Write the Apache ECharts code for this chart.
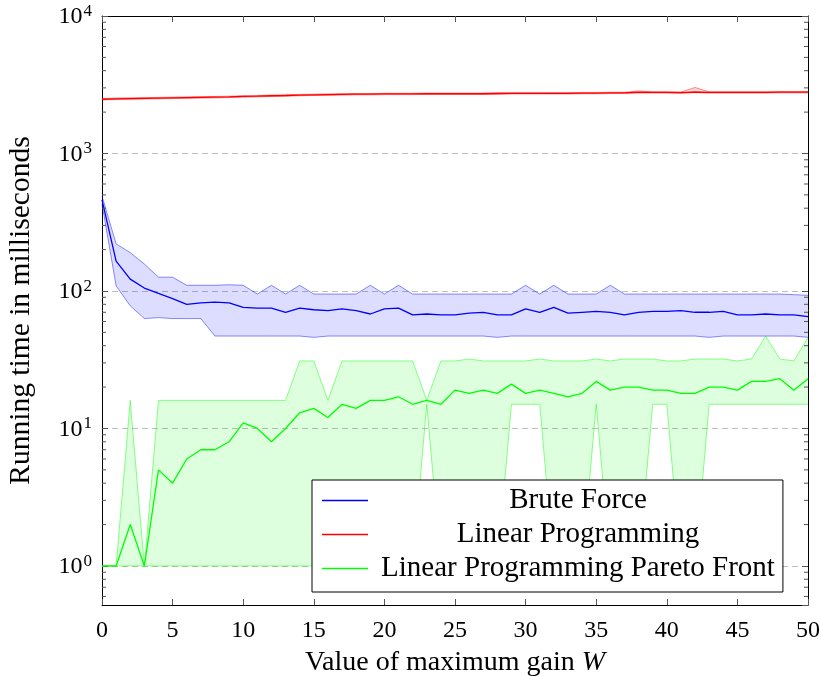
<!DOCTYPE html>
<html>
<head>
<meta charset="utf-8">
<script src="https://cdn.jsdelivr.net/npm/echarts@6/dist/echarts.min.js"></script>
<style>
html,body{margin:0;padding:0;background:#fff;}
#c{width:821px;height:676px;}
</style>
</head>
<body>
<div id="c"></div>
<script>
// ---- data ----
const W = [0,1,2,3,4,5,6,7,8,9,10,11,12,13,14,15,16,17,18,19,20,21,22,23,24,25,26,27,28,29,30,31,32,33,34,35,36,37,38,39,40,41,42,43,44,45,46,47,48,49,50];

const bfMean = [460,165,122,105,96,88,80,82,83,82,76,75,75,70,75,73,72,74,72,68,74,75,67,68,67,67,69,70,67,67,74,70,76,69,70,71,70,67,70,71,71,72,70,70,71,67,67,68,67,67,65];
const bfMax  = [490,220,190,157,126,126,110,110,110,111,110,95,110,95,110,95,95,95,95,110,95,110,95,95,95,95,95,95,95,95,110,95,110,95,95,95,110,95,95,95,95,95,95,95,95,95,95,95,95,94,93];
const bfMin  = [430,109,78,63,64,63,63,63,47,47,47,47,47,47,47,46,47,47,47,47,47,47,47,47,47,47,47,47,46,47,47,47,47,47,47,47,47,47,47,47,47,47,47,46,47,47,47,47,47,47,46];

const lpMean = [2480,2500,2510,2520,2530,2540,2550,2560,2570,2580,2600,2610,2630,2640,2660,2670,2680,2690,2700,2700,2710,2710,2710,2720,2720,2720,2720,2720,2730,2740,2740,2740,2740,2740,2750,2750,2760,2760,2790,2780,2780,2770,2800,2780,2780,2780,2780,2780,2790,2790,2790];
const lpMax  = [2510,2530,2540,2550,2560,2570,2580,2590,2600,2610,2630,2640,2660,2670,2690,2700,2710,2720,2730,2730,2740,2740,2740,2750,2750,2750,2750,2750,2760,2770,2770,2770,2770,2770,2780,2780,2790,2790,2850,2810,2810,2800,3020,2810,2810,2810,2810,2810,2820,2820,2820];
const lpMin  = [2450,2470,2480,2490,2500,2510,2520,2530,2540,2550,2570,2580,2600,2610,2630,2640,2650,2660,2670,2670,2680,2680,2680,2690,2690,2690,2690,2690,2700,2710,2710,2710,2710,2710,2720,2720,2730,2730,2750,2750,2750,2740,2770,2750,2750,2750,2750,2750,2760,2760,2760];

const pfMean = [1,1,2,1,5,4,6,7,7,8,11,10,8,10,13,14,12,15,14,16,16,17,15,16,15,19,18,19,18,21,18,19,18,17,18,22,19,20,20,19,19,18,18,20,20,19,22,22,23,19,23];
const pfMax  = [1,1,16,1,16,16,16,16,16,16,16,16,16,16,31,31,16,31,31,31,31,31,31,16,31,31,32,31,31,31,31,32,31,31,31,32,31,32,32,32,31,31,32,32,32,31,32,47,32,31,46];
const pfMin  = [1,1,1,1,1,1,1,1,1,1,1,1,1,1,1,1,1,1,1,1,1,1,1,15,1,1,1,1,1,15,15,15,1,1,1,15,1,1,1,15,15,1,1,15,15,15,15,15,15,15,15];

const seriesNames = ['Brute Force','Linear Programming','Linear Programming Pareto Front'];
const xTitle = 'Value of maximum gain {i|W}';
const yTitle = 'Running time in milliseconds';
const minorMultipliers = [2,3,4,5,6,7,8,9];
const minorDecades = [0.1,1,10,100,1000];

// ---- chart ----
const FONT = 'Liberation Serif';
const chart = echarts.init(document.getElementById('c'), null, {renderer:'canvas'});

function pairs(ys){ return W.map((x,i)=>[x, ys[i]]); }

function band(name, lo, hi, fill, z){
  return {
    type:'custom', name:name, silent:true, z:z, clip:true,
    data:[[W[0], lo[0]]], encode:{x:0,y:1},
    renderItem:function(params, api){
      const pts=[];
      for(let i=0;i<W.length;i++) pts.push(api.coord([W[i], hi[i]]));
      for(let i=W.length-1;i>=0;i--) pts.push(api.coord([W[i], lo[i]]));
      return {type:'polygon', shape:{points:pts}, style:{fill:fill, stroke:null}};
    }
  };
}
function edge(name, ys, color, z){
  return {type:'line', name:name, data:pairs(ys), symbol:'none', silent:true, z:z,
    lineStyle:{color:color, width:1}, animation:false};
}
function mean(name, ys, color, z){
  return {type:'line', name:name, data:pairs(ys), symbol:'none', z:z,
    itemStyle:{color:color}, lineStyle:{color:color, width:1.3}, animation:false};
}

const minorTicks = {
  type:'custom', name:'minorTicks', silent:true, z:20, clip:false,
  data:[[0,1]], encode:{x:0,y:1},
  renderItem:function(params, api){
    const children=[];
    const yLo = api.coord([0, 0.52])[1], yHi = api.coord([0, 10000])[1];
    for(const d of minorDecades){
      for(const m of minorMultipliers){
        const v = d*m;
        const p0 = api.coord([0, v]);
        const p1 = api.coord([50, v]);
        if(p0[1] > yLo + 0.5 || p0[1] < yHi - 0.5) continue;
        children.push({type:'line', shape:{x1:p0[0], y1:p0[1], x2:p0[0]+4, y2:p0[1]}, style:{stroke:'#555', lineWidth:1}});
        children.push({type:'line', shape:{x1:p1[0], y1:p1[1], x2:p1[0]-4, y2:p1[1]}, style:{stroke:'#555', lineWidth:1}});
      }
    }
    return {type:'group', children:children};
  }
};

function yLabel(v){
  const e = Math.round(Math.log10(v));
  if (Math.abs(Math.log10(v) - e) > 1e-6) return '';
  return '{b|10}{s|' + e + '}';
}

const option = {
  animation:false,
  backgroundColor:'#fff',
  grid:{left:102, right:13, top:16, bottom:71, containLabel:false, outerBoundsMode:'none'},
  xAxis:[
    {type:'value', min:0, max:50, interval:5, position:'bottom',
     axisLine:{show:true, onZero:false, lineStyle:{color:'#000', width:1}},
     axisTick:{show:true, inside:true, length:6, lineStyle:{color:'#555'}},
     axisLabel:{fontFamily:FONT, fontSize:24, color:'#000', margin:14},
     splitLine:{show:false},
     name:xTitle, nameLocation:'middle', nameGap:44,
     nameTextStyle:{fontFamily:FONT, fontSize:28, color:'#000', rich:{i:{fontFamily:FONT, fontSize:28, fontStyle:'italic', color:'#000'}}}
    },
    {type:'value', min:0, max:50, interval:5, position:'top',
     axisLine:{show:true, onZero:false, lineStyle:{color:'#000', width:1}},
     axisTick:{show:true, inside:true, length:6, lineStyle:{color:'#555'}},
     axisLabel:{show:false}, splitLine:{show:false}}
  ],
  yAxis:[
    {type:'log', logBase:10, min:0.52, max:10000, position:'left',
     axisLine:{show:true, onZero:false, lineStyle:{color:'#000', width:1}},
     axisTick:{show:true, inside:true, length:6, lineStyle:{color:'#555'}},
     axisLabel:{showMinLabel:false, margin:10, formatter:yLabel, color:'#000',
       rich:{b:{fontFamily:FONT, fontSize:24, color:'#000', verticalAlign:'bottom', lineHeight:26},
             s:{fontFamily:FONT, fontSize:17, color:'#000', verticalAlign:'top', lineHeight:26, padding:[0,0,0,1]}}},
     splitLine:{show:true, lineStyle:{color:'#bdbdbd', type:[6,4], width:1}},
     name:yTitle, nameLocation:'middle', nameGap:66,
     nameTextStyle:{fontFamily:FONT, fontSize:29.5, color:'#000'}
    },
    {type:'log', logBase:10, min:0.52, max:10000, position:'right',
     axisLine:{show:true, onZero:false, lineStyle:{color:'#000', width:1}},
     axisTick:{show:true, inside:true, length:6, lineStyle:{color:'#555'}},
     axisLabel:{show:false}, splitLine:{show:false}}
  ],
  legend:{
    data:seriesNames, orient:'vertical', left:312, top:480,
    backgroundColor:'#fff', borderColor:'#000', borderWidth:1, borderRadius:0,
    padding:[6,8,9,10], itemGap:5, itemWidth:46, itemHeight:1.5, icon:'rect',
    textStyle:{fontFamily:FONT, fontSize:29, color:'#000',
      rich:{c:{width:410, height:27, align:'center', fontFamily:FONT, fontSize:29, color:'#000'}}},
    formatter:function(n){ return '{c|' + n + '}'; },
    selectedMode:false
  },
  series:[
    band('bfBand', bfMin, bfMax, 'rgba(0,0,255,0.135)', 2),
    band('lpBand', lpMin, lpMax, 'rgba(255,0,0,0.135)', 2),
    band('pfBand', pfMin, pfMax, 'rgba(0,255,0,0.135)', 2),
    edge('bfMaxE', bfMax, 'rgba(0,0,255,0.45)', 3),
    edge('bfMinE', bfMin, 'rgba(0,0,255,0.45)', 3),
    edge('lpMaxE', lpMax, 'rgba(255,0,0,0.45)', 3),
    edge('lpMinE', lpMin, 'rgba(255,0,0,0.45)', 3),
    edge('pfMaxE', pfMax, 'rgba(0,255,0,0.45)', 3),
    edge('pfMinE', pfMin, 'rgba(0,255,0,0.45)', 3),
    mean(seriesNames[0], bfMean, '#0000ff', 4),
    mean(seriesNames[1], lpMean, '#ff0000', 4),
    mean(seriesNames[2], pfMean, '#00ff00', 4),
    minorTicks
  ]
};
chart.setOption(option);
</script>
</body>
</html>
